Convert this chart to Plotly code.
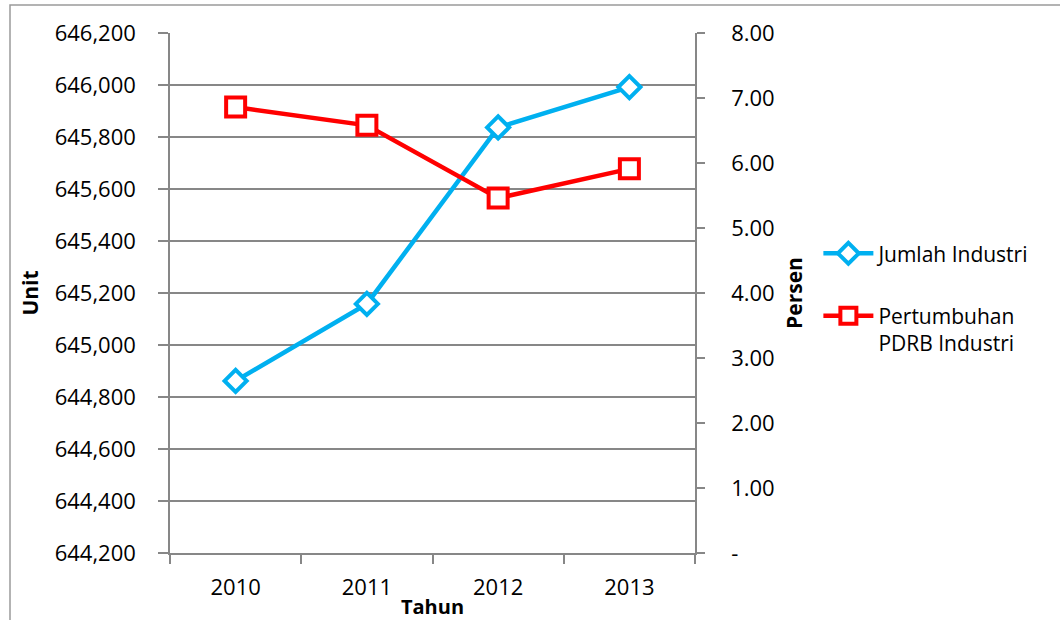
import plotly.graph_objects as go

years = ["2010", "2011", "2012", "2013"]
jumlah_industri = [644862, 645158, 645837, 645992]
pertumbuhan_pdrb = [6.86, 6.58, 5.46, 5.91]

left_ticks = [644200, 644400, 644600, 644800, 645000, 645200, 645400, 645600, 645800, 646000, 646200]
right_tickvals = [0, 1, 2, 3, 4, 5, 6, 7, 8]
right_ticktext = ["-", "1.00", "2.00", "3.00", "4.00", "5.00", "6.00", "7.00", "8.00"]

FONT = "Open Sans"
GRID = "#878787"
BLUE = "#00B0F0"
RED = "#FF0000"

fig = go.Figure()
fig.add_trace(go.Scatter(
    x=years, y=jumlah_industri, name="Jumlah Industri", yaxis="y",
    legendgroup="a",
    mode="lines+markers",
    line=dict(color=BLUE, width=4.5),
    marker=dict(symbol="diamond", size=17, color="white", line=dict(color=BLUE, width=4)),
))
fig.add_trace(go.Scatter(
    x=years, y=pertumbuhan_pdrb, name="Pertumbuhan<br>PDRB Industri", yaxis="y2",
    legendgroup="b",
    mode="lines+markers",
    line=dict(color=RED, width=4.5),
    marker=dict(symbol="square", size=19, color="white", line=dict(color=RED, width=4)),
))

fig.update_layout(
    width=1060, height=620,
    margin=dict(l=170, r=365, t=33, b=67),
    paper_bgcolor="white", plot_bgcolor="white",
    font=dict(family=FONT, size=22, color="black"),
    xaxis=dict(
        type="category", range=[-0.5, 3.5], automargin=False,
        showgrid=False, showline=True, linecolor=GRID, linewidth=1.5,
        ticks="outside", tickson="boundaries", ticklen=9, tickcolor=GRID, tickwidth=1.5,
        ticklabelstandoff=14,
        title=dict(text="<b>Tahun</b>", standoff=1, font=dict(size=20)),
    ),
    yaxis=dict(
        range=[644200, 646200], tickvals=left_ticks, tickformat=",", automargin=False,
        showgrid=True, gridcolor=GRID, gridwidth=1.5,
        showline=True, linecolor=GRID, linewidth=1.5,
        ticks="outside", ticklen=10, tickcolor=GRID, tickwidth=1.5,
        ticklabelstandoff=18, zeroline=False,
        title=dict(text="<b>Unit</b>", standoff=10, font=dict(size=21)),
    ),
    yaxis2=dict(
        overlaying="y", side="right", range=[0, 8], automargin=False,
        tickvals=right_tickvals, ticktext=right_ticktext,
        showgrid=False, showline=True, linecolor=GRID, linewidth=1.5,
        ticks="outside", ticklen=8, tickcolor=GRID, tickwidth=1.5,
        ticklabelstandoff=22, zeroline=False,
        title=dict(text="<b>Persen</b>", standoff=14, font=dict(size=21)),
    ),
    legend=dict(
        x=1.235, xanchor="left", y=0.49, yanchor="middle",
        font=dict(size=21), bgcolor="rgba(0,0,0,0)",
        itemwidth=50, tracegroupgap=32, valign="top",
    ),
    shapes=[dict(
        type="rect", xref="paper", yref="paper",
        x0=(10 - 170) / 525, x1=(1070 - 170) / 525,
        y0=(553 - 640) / 520, y1=(553 - 5) / 520,
        line=dict(color="#9a9a9a", width=1.5), fillcolor="rgba(0,0,0,0)", layer="below",
    )],
)

fig.write_html("out.html")
